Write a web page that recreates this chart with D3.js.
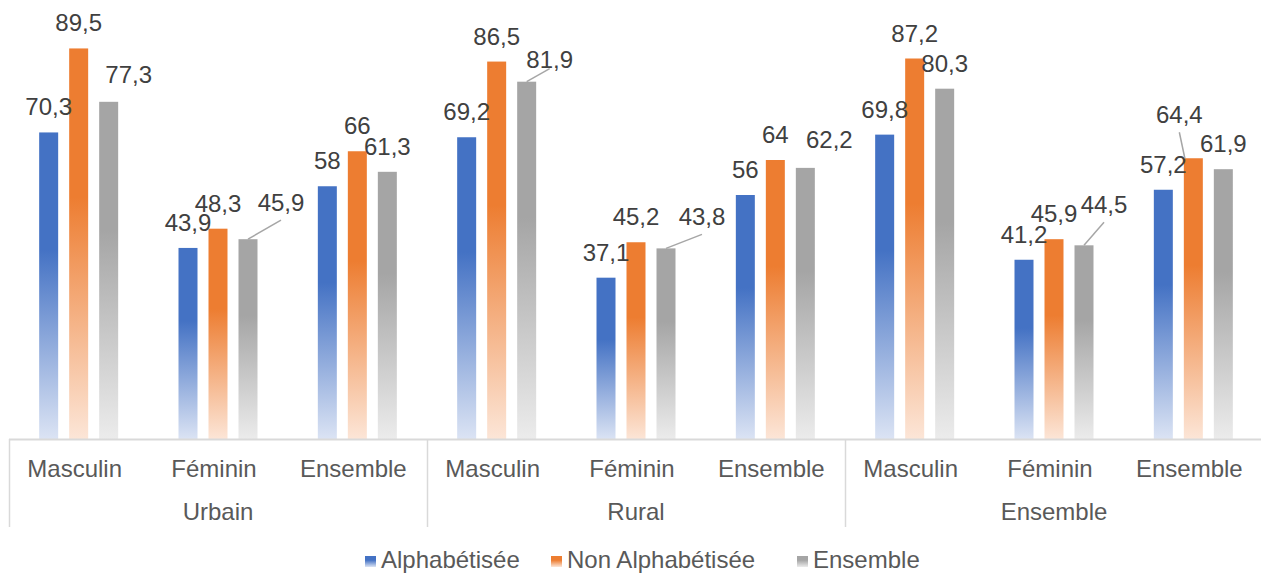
<!DOCTYPE html>
<html>
<head>
<meta charset="utf-8">
<script src="https://cdn.jsdelivr.net/npm/d3@7"></script>
<style>
  html, body { margin: 0; padding: 0; background: #ffffff; }
  svg { display: block; font-family: "Liberation Sans", Arial, sans-serif; }
</style>
</head>
<body>
<svg id="chart" width="1261" height="574"></svg>
<script>
// ---- Data ----
const groups = ["Urbain", "Rural", "Ensemble"];
const categories = ["Masculin", "Féminin", "Ensemble"];
const seriesNames = ["Alphabétisée", "Non Alphabétisée", "Ensemble"];
const alphabetisee    = [70.3, 43.9, 58, 69.2, 37.1, 56, 69.8, 41.2, 57.2];
const nonAlphabetisee = [89.5, 48.3, 66, 86.5, 45.2, 64, 87.2, 45.9, 64.4];
const ensemble        = [77.3, 45.9, 61.3, 81.9, 43.8, 62.2, 80.3, 44.5, 61.9];
const yTicks = [0, 100];

// ---- Style / layout ----
const colors = ["#4472C4", "#ED7D31", "#A5A5A5"];
const lightColors = ["#dce4f4", "#fce6d8", "#ececec"];
// manual label adjustments (series index, point index) -> dx, dy, leader line
const labelAdjust = [
  {s: 2, p: 0, dx: 20, dy: -2, leader: false},
  {s: 2, p: 1, dx: 33, dy: -11, leader: true},
  {s: 2, p: 3, dx: 23, dy: 3, leader: true},
  {s: 2, p: 4, dx: 36, dy: -6, leader: true},
  {s: 2, p: 5, dx: 24, dy: -3, leader: false},
  {s: 2, p: 7, dx: 20, dy: -15, leader: true},
  {s: 1, p: 8, dx: -14, dy: -18, leader: true}
];
const legendX = [365, 551, 797];

const seriesValues = [alphabetisee, nonAlphabetisee, ensemble];
const svg = d3.select("#chart");

const plotLeft = 9, plotRight = 1263, baseY = 440, topY = 2.5;

const y = d3.scaleLinear().domain([yTicks[0], yTicks[1]]).range([baseY, topY]);
const xGroup = d3.scaleBand().domain(groups).range([plotLeft, plotRight]);
const catKeys = d3.range(groups.length * categories.length);
const xCat = d3.scaleBand().domain(catKeys).range([plotLeft, plotRight]);
const catW = xCat.bandwidth();
const xSeries = d3.scaleBand().domain(d3.range(seriesNames.length))
  .range([-45, 45]).paddingInner(11 / 30).paddingOuter(0.1833);

// gradients
const defs = svg.append("defs");
seriesNames.forEach((n, i) => {
  const g = defs.append("linearGradient").attr("id", "grad" + i)
    .attr("x1", 0).attr("y1", 0).attr("x2", 0).attr("y2", 1);
  g.append("stop").attr("offset", "0").attr("stop-color", colors[i]);
  g.append("stop").attr("offset", "0.38").attr("stop-color", colors[i]);
  g.append("stop").attr("offset", "1").attr("stop-color", lightColors[i]);
});

// bars
const barData = [];
seriesValues.forEach((vals, s) => {
  vals.forEach((v, p) => {
    const cx = xCat(p) + catW / 2;
    barData.push({s, p, v, x: cx + xSeries(s), w: xSeries.bandwidth()});
  });
});

svg.append("g").selectAll("rect").data(barData).join("rect")
  .attr("x", d => d.x)
  .attr("y", d => y(d.v))
  .attr("width", d => d.w)
  .attr("height", d => y(0) - y(d.v))
  .attr("fill", d => "url(#grad" + d.s + ")");

// axis lines
const axisG = svg.append("g");
axisG.append("line")
  .attr("x1", plotLeft).attr("x2", plotRight)
  .attr("y1", baseY - 0.5).attr("y2", baseY - 0.5)
  .attr("stroke", "#d9d9d9").attr("stroke-width", 2);
groups.forEach(g => {
  axisG.append("line")
    .attr("x1", xGroup(g) + 0.5).attr("x2", xGroup(g) + 0.5)
    .attr("y1", baseY - 1).attr("y2", 527)
    .attr("stroke", "#d9d9d9").attr("stroke-width", 1.5);
});

// category labels via d3 axis
const catAxis = d3.axisBottom(xCat).tickSize(0).tickPadding(0)
  .tickFormat(i => categories[i % categories.length]);
const catG = svg.append("g").attr("transform", `translate(-4, ${baseY})`).call(catAxis);
catG.select(".domain").remove();
catG.selectAll("text")
  .attr("dy", null).attr("y", 37)
  .attr("font-size", 24).attr("fill", "#595959")
  .attr("font-family", '"Liberation Sans", Arial, sans-serif');

// group labels via d3 axis
const grpAxis = d3.axisBottom(xGroup).tickSize(0).tickPadding(0);
const grpG = svg.append("g").attr("transform", `translate(0, ${baseY})`).call(grpAxis);
grpG.select(".domain").remove();
grpG.selectAll("text")
  .attr("dy", null).attr("y", 80)
  .attr("font-size", 24).attr("fill", "#595959")
  .attr("font-family", '"Liberation Sans", Arial, sans-serif');

// data labels
const fmt = v => String(v).replace(".", ",");
const labelG = svg.append("g");
barData.forEach(d => {
  const adj = labelAdjust.find(a => a.s === d.s && a.p === d.p) || {dx: 0, dy: 0, leader: false};
  const bc = d.x + d.w / 2;
  const top = y(d.v);
  const lx = bc + adj.dx;
  const ly = top - 17 + adj.dy;
  if (adj.leader) {
    const sx = Math.min(Math.max(lx, d.x + 1), bc);
    const ey = Math.min(ly + 9, top - 13);
    labelG.append("line")
      .attr("x1", sx).attr("y1", top)
      .attr("x2", lx).attr("y2", ey)
      .attr("stroke", "#a6a6a6").attr("stroke-width", 1.5);
  }
  labelG.append("text")
    .attr("x", lx).attr("y", ly)
    .attr("text-anchor", "middle")
    .attr("font-size", 24).attr("fill", "#404040")
    .text(fmt(d.v));
});

// legend
const legG = svg.append("g");
seriesNames.forEach((n, i) => {
  legG.append("rect")
    .attr("x", legendX[i]).attr("y", 556)
    .attr("width", 11).attr("height", 11)
    .attr("fill", "url(#grad" + i + ")");
  legG.append("text")
    .attr("x", legendX[i] + 16).attr("y", 568)
    .attr("font-size", 24).attr("fill", "#595959")
    .text(n);
});
</script>
</body>
</html>
